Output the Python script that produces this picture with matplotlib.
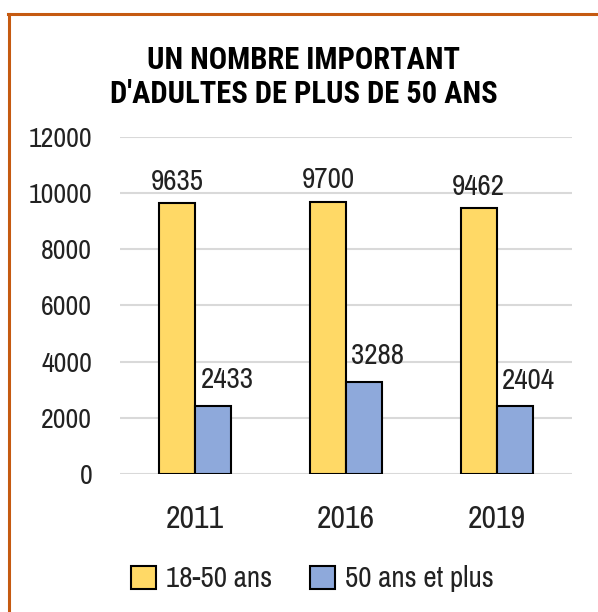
import matplotlib.pyplot as plt
from matplotlib import font_manager
from matplotlib.patches import Patch
from matplotlib.lines import Line2D
import numpy as np

# pick a narrow sans font close to Arial Narrow, whichever is installed
fonts = font_manager.fontManager.ttflist
installed = {f.name for f in fonts}
bold_ok = {f.name for f in fonts if (isinstance(f.weight, int) and f.weight >= 600) or f.weight == 'bold'}
wanted = ['Liberation Sans Narrow', 'Arial Narrow', 'Archivo Narrow', 'PT Sans Narrow',
          'Roboto Condensed', 'Pragati Narrow', 'Encode Sans Condensed', 'Open Sans Condensed',
          'Liberation Sans']
wanted_bold = ['Liberation Sans Narrow', 'Arial Narrow', 'Roboto Condensed', 'PT Sans Narrow',
               'Archivo Narrow', 'Liberation Sans']
narrow = [n for n in wanted if n in installed][:1]
narrow_bold = [n for n in wanted_bold if n in bold_ok][:1]
plt.rcParams['font.family'] = narrow + ['DejaVu Sans']

years = ['2011', '2016', '2019']
adults_18_50 = [9635, 9700, 9462]
adults_50_plus = [2433, 3288, 2404]
series_names = ['18-50 ans', '50 ans et plus']
yticks = [0, 2000, 4000, 6000, 8000, 10000, 12000]

yellow = '#FFD966'
blue = '#8EA9DB'
txt = '#222222'

fig = plt.figure(figsize=(5.98, 6.12), dpi=100)
ax = fig.add_axes([0.2007, 0.2255, 0.7559, 0.5507])

x = np.arange(len(years))
w = 0.239
b1 = ax.bar(x - w / 2, adults_18_50, w, color=yellow, edgecolor='black', linewidth=1.5, zorder=3)
b2 = ax.bar(x + w / 2, adults_50_plus, w, color=blue, edgecolor='black', linewidth=1.5, zorder=3)

for rect, v in zip(b1, adults_18_50):
    ax.annotate(str(v), (rect.get_x() + rect.get_width() / 2, v), xytext=(0, 6),
                textcoords='offset points', ha='center', va='bottom', fontsize=21, color=txt)
for rect, v in zip(b2, adults_50_plus):
    ax.annotate(str(v), (rect.get_x() + rect.get_width() / 2, v), xytext=(10, 9),
                textcoords='offset points', ha='center', va='bottom', fontsize=21, color=txt)

ax.set_xlim(-0.5, 2.5)
ax.set_ylim(0, 12000)
ax.set_yticks(yticks)
ax.set_yticklabels([str(t) for t in yticks], fontsize=20, color=txt)
ax.set_xticks(x)
ax.set_xticklabels(years, fontsize=23, color=txt)
ax.tick_params(axis='y', length=0, pad=20)
ax.tick_params(axis='x', length=0, pad=22)
ax.grid(axis='y', color='#d9d9d9', linewidth=1.5, zorder=0)
for s in ax.spines.values():
    s.set_visible(False)

fig.text(0.508, 0.874, "UN NOMBRE IMPORTANT\nD'ADULTES DE PLUS DE 50 ANS", ha='center', va='center',
         fontsize=22, fontweight='bold', linespacing=1.18, color='black',
         family=narrow_bold + ['DejaVu Sans'])

handles = [Patch(facecolor=yellow, edgecolor='black', linewidth=1.5),
           Patch(facecolor=blue, edgecolor='black', linewidth=1.5)]
fig.legend(handles, series_names, loc='center', bbox_to_anchor=(0.522, 0.054), ncol=2, frameon=False,
           fontsize=21, handlelength=0.85, handleheight=0.85, handletextpad=0.35, columnspacing=1.3,
           labelcolor=txt)

# orange frame (left and top)
fig.add_artist(Line2D([9 / 598, 9 / 598], [0, 1 - 14 / 612], color='#C55A11', linewidth=2.2))
fig.add_artist(Line2D([8 / 598, 1], [1 - 14 / 612, 1 - 14 / 612], color='#C55A11', linewidth=2.2))

fig.savefig('out.png', dpi=100)
